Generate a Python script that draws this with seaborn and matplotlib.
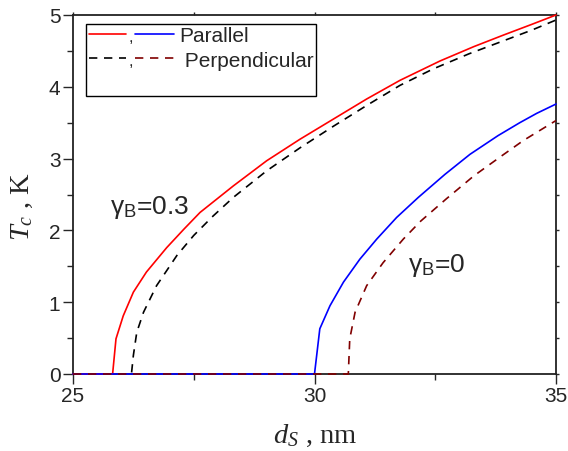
import matplotlib
matplotlib.use("Agg")
import matplotlib.pyplot as plt
import seaborn as sns
import pandas as pd
from matplotlib.legend_handler import HandlerBase
from matplotlib.lines import Line2D
from matplotlib.text import Text
from matplotlib.ticker import MultipleLocator

# ---- data ----
red_x = [25.0, 25.82, 25.89, 26.04, 26.25, 26.52, 26.94, 27.3, 27.63, 28.32, 29.01, 29.7, 30.39, 31.08,
         31.77, 32.6, 33.3, 33.91, 34.5, 35.0]
red_y = [0, 0, 0.49, 0.81, 1.14, 1.42, 1.76, 2.02, 2.25, 2.62, 2.97, 3.27, 3.55, 3.83,
         4.09, 4.36, 4.56, 4.72, 4.87, 5.0]

black_x = [25.0, 26.21, 26.25, 26.32, 26.46, 26.73, 27.15, 27.5, 27.9, 28.32, 29.01, 29.7, 30.39, 31.08,
           31.77, 32.46, 33.2, 33.91, 34.5, 35.0]
black_y = [0, 0, 0.26, 0.58, 0.86, 1.23, 1.65, 1.93, 2.2, 2.46, 2.83, 3.15, 3.45, 3.74,
           4.02, 4.25, 4.46, 4.64, 4.79, 4.93]

blue_x = [25.0, 30.0, 30.11, 30.32, 30.6, 30.94, 31.29, 31.7, 32.15, 32.7, 33.22, 33.8, 34.25, 34.6, 35.0]
blue_y = [0, 0, 0.63, 0.95, 1.28, 1.6, 1.88, 2.18, 2.46, 2.78, 3.06, 3.32, 3.5, 3.63, 3.76]

darkred_x = [25.0, 30.7, 30.73, 30.84, 31.08, 31.42, 31.84, 32.2, 32.73, 33.3, 33.9, 34.32, 35.0]
darkred_y = [0, 0, 0.49, 0.86, 1.23, 1.55, 1.88, 2.13, 2.44, 2.76, 3.05, 3.25, 3.53]

legend_labels = ["Parallel", " Perpendicular", " "]
x_ticks = [25, 30, 35]
y_ticks = [0, 1, 2, 3, 4, 5]

# ---- style ----
sns.set_style("ticks")
plt.rcParams["font.family"] = ["Liberation Sans", "DejaVu Sans"]
plt.rcParams["mathtext.fontset"] = "custom"
plt.rcParams["mathtext.rm"] = "Liberation Sans"
plt.rcParams["mathtext.it"] = "Liberation Serif:italic"

fig = plt.figure(figsize=(5.68, 4.52), dpi=100)
ax = fig.add_axes([73 / 568, 1 - 375 / 452, (556 - 73) / 568, (375 - 16) / 452])

def df(x, y):
    return pd.DataFrame({"x": x, "y": y})

lw = 1.2
dash = (0, (5, 4))
for xs, ys, col, ls in [(black_x, black_y, "black", dash),
                        (red_x, red_y, "#ff0000", "-"),
                        (blue_x, blue_y, "#0000ff", "-"),
                        (darkred_x, darkred_y, "#800000", dash)]:
    sns.lineplot(data=df(xs, ys), x="x", y="y", ax=ax, color=col, lw=lw, sort=False,
                 linestyle=ls, clip_on=False, zorder=5)

ax.set_xlim(25, 35)
ax.set_ylim(0, 5)
ax.set_xticks(x_ticks)
ax.set_yticks(y_ticks)
ax.xaxis.set_minor_locator(MultipleLocator(2.5))
ax.yaxis.set_minor_locator(MultipleLocator(0.5))
ax.tick_params(axis="both", which="major", direction="out", length=7, width=1.0, labelsize=15, pad=2)
ax.tick_params(axis="both", which="minor", direction="out", length=4, width=1.0)
for s in ax.spines.values():
    s.set_linewidth(1.3)
    s.set_visible(True)
    s.set_color("#222222")

# short ticks on top/right
secx = ax.secondary_xaxis("top")
secx.set_xticks(x_ticks)
secx.xaxis.set_minor_locator(MultipleLocator(2.5))
secx.tick_params(which="both", direction="out", length=2.5, width=1.0)
secx.set_xticklabels([])
secx.spines["top"].set_visible(False)
secy = ax.secondary_yaxis("right")
secy.set_yticks(y_ticks)
secy.yaxis.set_minor_locator(MultipleLocator(0.5))
secy.tick_params(which="both", direction="out", length=2.5, width=1.0)
secy.set_yticklabels([])
secy.spines["right"].set_visible(False)

ax.set_xlabel(r"$d_S$ , nm", family="Liberation Serif", fontsize=20.5)
ax.set_ylabel(r"$T_c$ , K", family="Liberation Serif", fontsize=20.5)
ax.xaxis.set_label_coords((315 - 73) / 483, -(436 - 375) / 359)
ax.xaxis.label.set_va("center")
ax.yaxis.set_label_coords((22 - 73) / 483, (375 - 207) / 359)
ax.yaxis.label.set_va("center")

ax.text(25.77, 2.33, r"γ$_\mathregular{B}$=0.3", fontsize=19, va="center", ha="left")
ax.text(31.94, 1.53, r"γ$_\mathregular{B}$=0", fontsize=19, va="center", ha="left")

# legend with paired handles and a comma
class PairHandler(HandlerBase):
    def create_artists(self, legend, orig_handle, xdescent, ydescent, width, height, fontsize, trans):
        y = height / 2 - ydescent
        x0 = -xdescent
        if len(orig_handle) == 0:
            return [Line2D([x0, x0 + width], [y, y], alpha=0, transform=trans)]
        (c1, ls1), (c2, ls2) = orig_handle
        a = Line2D([x0, x0 + 0.44 * width], [y, y], color=c1, lw=lw, linestyle=ls1, transform=trans)
        t = Text(x0 + 0.465 * width, y - 0.32 * fontsize, ",", fontsize=fontsize * 0.8,
                 ha="left", va="baseline", transform=trans)
        b = Line2D([x0 + 0.54 * width, x0 + width], [y, y], color=c2, lw=lw, linestyle=ls2, transform=trans)
        return [a, t, b]

h1 = (("#ff0000", "-"), ("#0000ff", "-"))
h2 = (("black", dash), ("#800000", dash))
h3 = ()
leg = ax.legend([h1, h2, h3], legend_labels, handler_map={tuple: PairHandler()},
                loc="upper left", bbox_to_anchor=(13 / 483, 1 - 9 / 359), fontsize=15,
                handlelength=4.1, handletextpad=0.25, borderpad=0.12, labelspacing=0.25,
                borderaxespad=0, frameon=True, fancybox=False, edgecolor="black",
                framealpha=1)
leg.get_frame().set_linewidth(1.0)
leg.set_zorder(10)

fig.savefig("out.png", dpi=100)
